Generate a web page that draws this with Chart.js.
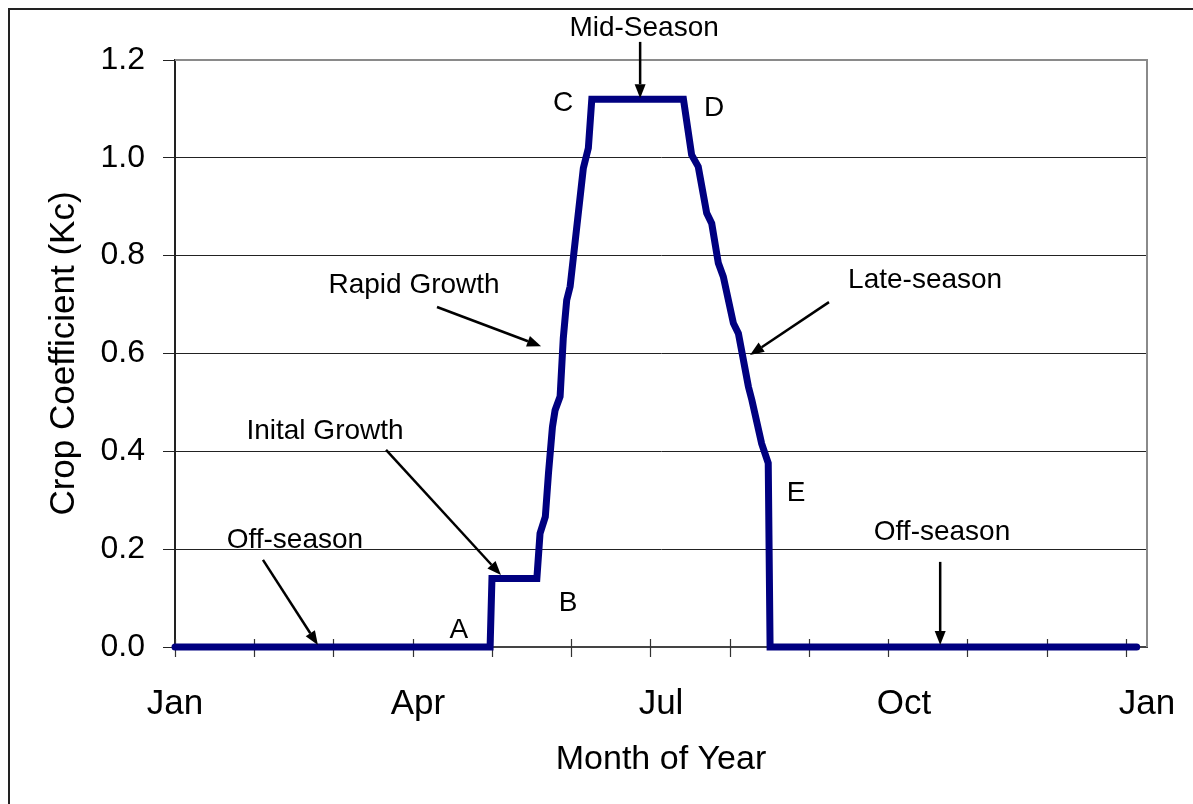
<!DOCTYPE html>
<html>
<head>
<meta charset="utf-8">
<script src="https://cdn.jsdelivr.net/npm/chart.js@4.4.1/dist/chart.umd.min.js"></script>
<style>
  html, body { margin: 0; padding: 0; background: #fff; }
  #wrap { position: relative; width: 1193px; height: 804px; overflow: hidden; }
  #frame { position: absolute; left: 8px; top: 8px; width: 1400px; height: 1000px;
           border-left: 2px solid #222; border-top: 2px solid #222; }
  canvas { position: absolute; left: 0; top: 0; }
</style>
</head>
<body>
<div id="wrap">
  <div id="frame"></div>
  <canvas id="kcChart" width="1193" height="804"></canvas>
</div>
<script>
// Crop coefficient through the year (day of year vs Kc)
const seasonDays = [0, 119.3, 120, 137.0, 138.2, 140.2, 141.4, 142.9, 143.9, 145.8, 147.0, 148.3, 149.6, 154.6, 156.5, 157.8,
                    192.5, 195.6, 198.1, 201.3, 203.2, 205.7, 207.6, 211.4, 213.3, 217.1, 218.4, 222.1, 224.6, 225.3, 364.1];
const kcValues   = [0, 0, 0.14, 0.14, 0.232, 0.266, 0.355, 0.45, 0.484, 0.512, 0.631, 0.709, 0.737, 0.979, 1.02, 1.12,
                    1.12, 1.006, 0.982, 0.887, 0.866, 0.785, 0.757, 0.662, 0.641, 0.532, 0.505, 0.416, 0.376, 0, 0];

// month tick marks and the quarter labels under the axis
const monthTicks    = [0, 30, 60, 90, 120, 150, 180, 210, 240, 270, 300, 330, 360];
const quarterDays   = [0, 92, 184, 276, 368];
const quarterLabels = ['Jan', 'Apr', 'Jul', 'Oct', 'Jan'];

// growth stage notes (day, Kc)
const stageNotes = [
  { text: 'Mid-Season',    day: 177.6, kc: 1.265 },
  { text: 'C',             day: 146.9, kc: 1.112 },
  { text: 'D',             day: 204.1, kc: 1.102 },
  { text: 'Rapid Growth',  day: 90.5,  kc: 0.740 },
  { text: 'Late-season',   day: 284.0, kc: 0.750 },
  { text: 'Inital Growth', day: 56.8,  kc: 0.440 },
  { text: 'Off-season',    day: 45.4,  kc: 0.219 },
  { text: 'Off-season',    day: 290.4, kc: 0.235 },
  { text: 'A',             day: 107.5, kc: 0.035 },
  { text: 'B',             day: 148.8, kc: 0.090 },
  { text: 'E',             day: 235.1, kc: 0.315 }
];
const stageArrows = [
  { from: [176.1, 1.237], to: [176.1, 1.122] },
  { from: [99.2, 0.695],  to: [138.6, 0.615] },
  { from: [247.6, 0.705], to: [217.7, 0.597] },
  { from: [79.9, 0.403],  to: [123.4, 0.147] },
  { from: [33.3, 0.178],  to: [54.1, 0.004] },
  { from: [289.7, 0.174], to: [289.7, 0.004] }
];

const FONT = '"Liberation Sans", Arial, sans-serif';

const frameTicks = {
  id: 'frameTicks',
  beforeDatasetsDraw(chart) {
    const { ctx, chartArea: a, scales: { x } } = chart;
    ctx.save();
    ctx.strokeStyle = '#8a8a8a';
    ctx.lineWidth = 2;
    ctx.beginPath();
    ctx.moveTo(a.left, a.top);
    ctx.lineTo(a.right, a.top);
    ctx.lineTo(a.right, a.bottom);
    ctx.stroke();
    // cross tick marks on the month axis
    ctx.strokeStyle = '#333';
    ctx.lineWidth = 1.2;
    ctx.beginPath();
    monthTicks.forEach(d => {
      const px = Math.round(x.getPixelForValue(d)) + 0.5;
      ctx.moveTo(px, a.bottom - 8);
      ctx.lineTo(px, a.bottom + 10);
    });
    ctx.stroke();
    ctx.restore();
  }
};

function arrow(ctx, x1, y1, x2, y2) {
  const ang = Math.atan2(y2 - y1, x2 - x1);
  const len = 14, half = 5.5;
  const bx = x2 - len * Math.cos(ang), by = y2 - len * Math.sin(ang);
  ctx.beginPath();
  ctx.moveTo(x1, y1);
  ctx.lineTo(bx, by);
  ctx.stroke();
  ctx.beginPath();
  ctx.moveTo(x2, y2);
  ctx.lineTo(bx + half * Math.sin(ang), by - half * Math.cos(ang));
  ctx.lineTo(bx - half * Math.sin(ang), by + half * Math.cos(ang));
  ctx.closePath();
  ctx.fill();
}

const notes = {
  id: 'notes',
  afterDatasetsDraw(chart) {
    const { ctx, scales: { x, y } } = chart;
    ctx.save();
    ctx.fillStyle = '#000';
    ctx.strokeStyle = '#000';
    ctx.lineWidth = 2.5;
    ctx.font = '28px ' + FONT;
    ctx.textAlign = 'center';
    ctx.textBaseline = 'middle';
    stageNotes.forEach(n => ctx.fillText(n.text, x.getPixelForValue(n.day), y.getPixelForValue(n.kc)));
    stageArrows.forEach(a => arrow(ctx,
      x.getPixelForValue(a.from[0]), y.getPixelForValue(a.from[1]),
      x.getPixelForValue(a.to[0]), y.getPixelForValue(a.to[1])));
    ctx.restore();
  }
};

new Chart(document.getElementById('kcChart'), {
  type: 'line',
  data: {
    datasets: [{
      data: seasonDays.map((d, i) => ({ x: d, y: kcValues[i] })),
      borderColor: '#000080',
      borderWidth: 7,
      borderCapStyle: 'round',
      borderJoinStyle: 'miter',
      pointRadius: 0,
      tension: 0,
      fill: false,
      clip: false,
      xAxisID: 'x',
      yAxisID: 'y'
    }]
  },
  plugins: [frameTicks, notes],
  options: {
    responsive: false,
    animation: false,
    layout: { padding: { left: 0, top: 60, right: 46, bottom: 0 } },
    plugins: { legend: { display: false }, tooltip: { enabled: false } },
    scales: {
      x: {
        type: 'linear', display: false, min: 0, max: 368
      },
      xq: {
        type: 'linear', position: 'bottom', min: 0, max: 368,
        grid: { display: false, drawTicks: false },
        border: { display: true, color: '#444', width: 2 },
        afterBuildTicks: s => { s.ticks = quarterDays.map(v => ({ value: v })); },
        ticks: {
          autoSkip: false, maxRotation: 0, padding: 36, color: '#000',
          font: { family: FONT, size: 35 },
          callback: (v, i) => quarterLabels[i]
        },
        title: {
          display: true, text: 'Month of Year', color: '#000',
          font: { family: FONT, size: 34 }, padding: { top: 0, bottom: 24 }
        },
        afterFit: s => { s.height = 157; s.paddingLeft = 0; s.paddingRight = 0; }
      },
      y: {
        min: 0, max: 1.2,
        ticks: {
          stepSize: 0.2, padding: 18, color: '#000',
          font: { family: FONT, size: 32 },
          callback: v => v.toFixed(1)
        },
        grid: { color: '#222', lineWidth: 1, tickLength: 12 },
        border: { color: '#222', width: 2 },
        title: {
          display: true, text: 'Crop Coefficient (Kc)', color: '#000',
          font: { family: FONT, size: 35 }, padding: { top: 43, bottom: 0 }
        },
        afterFit: s => { s.width = 175; s.paddingTop = 0; s.paddingBottom = 0; }
      }
    }
  }
});
</script>
</body>
</html>
